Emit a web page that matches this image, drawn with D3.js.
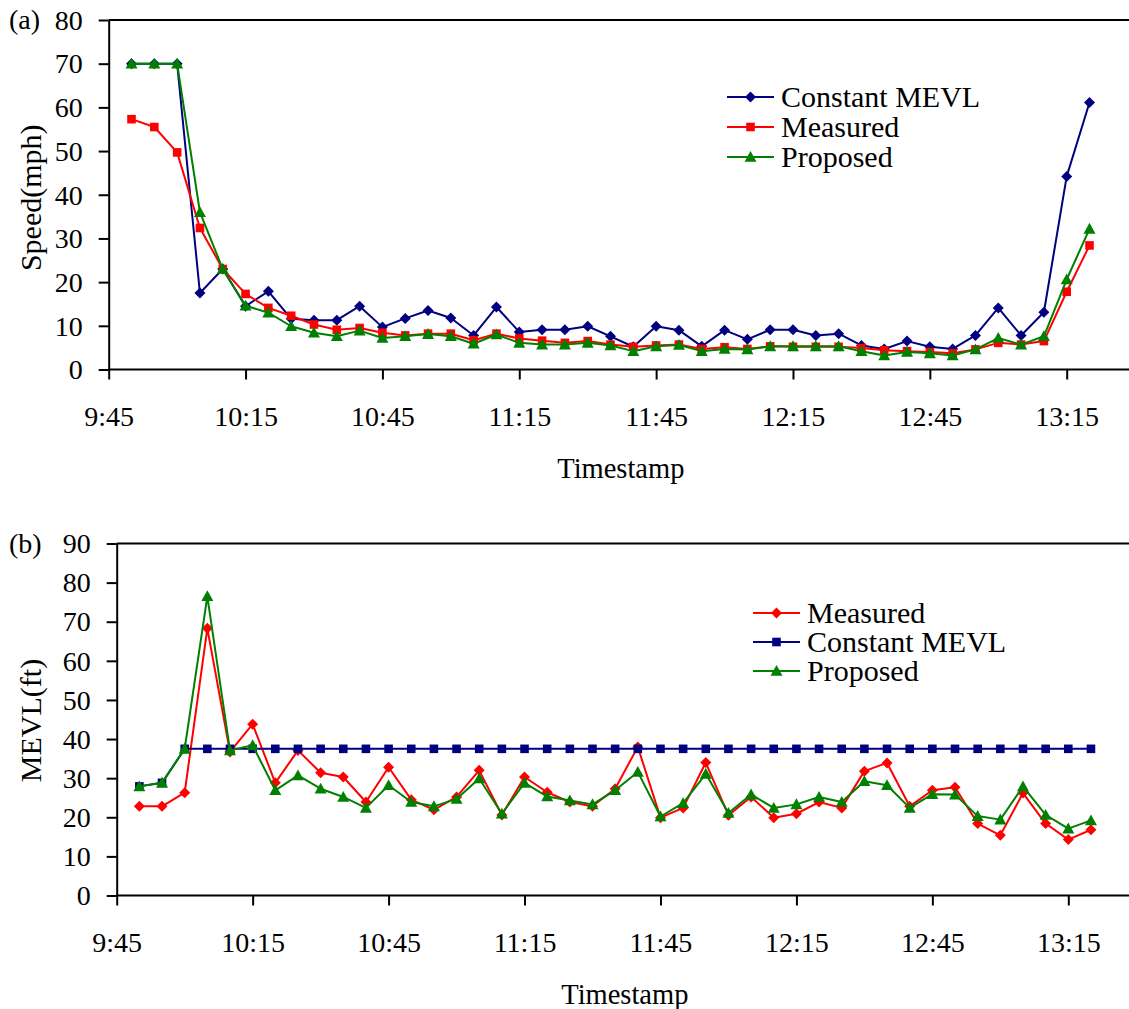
<!DOCTYPE html>
<html>
<head>
<meta charset="utf-8">
<script src="https://cdn.jsdelivr.net/npm/d3@7"></script>
<style>
html,body{margin:0;padding:0;background:#fff;}
svg{display:block;}
</style>
</head>
<body>
<svg id="chart" width="1129" height="1009"></svg>
<script>
// ---------- data ----------
const times = ["9:50","9:55","10:00","10:05","10:10","10:15","10:20","10:25","10:30","10:35","10:40","10:45","10:50","10:55","11:00",
  "11:05","11:10","11:15","11:20","11:25","11:30","11:35","11:40","11:45","11:50","11:55","12:00","12:05","12:10","12:15",
  "12:20","12:25","12:30","12:35","12:40","12:45","12:50","12:55","13:00","13:05","13:10","13:15","13:20"];
const xTickLabels = ["9:45","10:15","10:45","11:15","11:45","12:15","12:45","13:15"];

// panel (a): speed (mph)
const speedTicks = [0,10,20,30,40,50,60,70,80];
const speedConstant = [70,70,70,17.5,23,14.5,17.9,11.6,11.3,11.3,14.5,9.7,11.7,13.5,11.8,
  7.8,14.3,8.6,9.1,9.1,9.9,7.6,5.2,9.9,9.0,5.3,9.0,6.9,9.1,9.1,
  7.8,8.2,5.5,4.7,6.5,5.2,4.7,7.8,14.1,7.8,13.1,44.2,61.1];
const speedMeasured = [57.3,55.5,49.7,32.4,23,17.3,14.1,12.3,10.3,9.1,9.5,8.4,7.8,8.2,8.2,
  6.7,8.2,7.1,6.6,6.1,6.5,5.7,5.2,5.5,5.7,4.7,5.1,4.7,5.3,5.2,
  5.2,5.2,4.9,4.4,4.2,4.0,3.7,4.6,6.1,5.7,6.5,17.8,28.4];
const speedProposed = [70,70,70,36,23,14.6,13,9.9,8.4,7.6,8.9,7.2,7.6,8.1,7.6,
  5.9,8.0,6.1,5.7,5.7,6.1,5.5,4.2,5.3,5.6,4.2,4.7,4.6,5.3,5.3,
  5.3,5.3,4.2,3.2,4.0,3.7,3.2,4.6,7.2,5.7,7.6,20.6,32.2];

// panel (b): MEVL (ft)
const mevlTicks = [0,10,20,30,40,50,60,70,80,90];
const mevlMeasured = [22.8,22.8,26.3,68.3,36.7,43.8,28.8,37.1,31.4,30.3,23.9,32.8,24.5,21.9,25.2,
  32.0,20.6,30.3,26.4,23.9,22.8,27.3,38.0,19.9,22.4,34.0,20.5,25.2,19.9,20.9,
  23.9,22.4,31.8,33.9,22.8,26.9,27.7,18.4,15.4,26.2,18.4,14.3,16.8];
const mevlConstant = [27.9,28.8,37.5,37.5,37.5,37.5,37.5,37.5,37.5,37.5,37.5,37.5,37.5,37.5,37.5,
  37.5,37.5,37.5,37.5,37.5,37.5,37.5,37.5,37.5,37.5,37.5,37.5,37.5,37.5,37.5,
  37.5,37.5,37.5,37.5,37.5,37.5,37.5,37.5,37.5,37.5,37.5,37.5,37.5];
const mevlProposed = [27.9,28.8,37.5,76.5,37.1,38.4,26.9,30.7,27.3,25.2,22.4,28.2,23.9,22.8,24.7,
  29.9,20.9,28.8,25.3,24.3,23.3,26.9,31.6,20.2,23.6,31.1,21.1,25.8,22.4,23.3,
  25.2,23.9,29.2,28.2,22.4,25.9,25.8,20.3,19.4,27.9,20.6,17.1,19.2];

// ---------- drawing ----------
const parse = d3.timeParse("%H:%M");
const fmt = d3.timeFormat("%-H:%M");
const svg = d3.select("#chart");
const W = 1129;
const FONT = "Liberation Serif";

const NAVY = "#000080", RED = "#ff0000", GREEN = "#008000";

function markerPath(shape){
  if(shape === "diamond") return "M0,-5.5L5.5,0L0,5.5L-5.5,0Z";
  if(shape === "square") return "M-4.3,-4.3H4.3V4.3H-4.3Z";
  return "M0,-6L6,4.8H-6Z"; // triangle
}

function txt(sel, size){
  return sel.attr("font-family", FONT).attr("font-size", size).attr("fill", "#000");
}

function panel(cfg){
  const g = svg.append("g");
  const x = d3.scaleTime().domain([parse("9:45"), parse("13:15")]).range([cfg.left, cfg.x1315]);
  const y = d3.scaleLinear().domain([0, cfg.ymax]).range([cfg.bottom, cfg.top]);

  // frame: top & bottom lines extend to the right edge
  g.append("line").attr("x1", cfg.left).attr("x2", W).attr("y1", cfg.top).attr("y2", cfg.top)
    .attr("stroke","#000").attr("stroke-width",2);
  g.append("line").attr("x1", cfg.left).attr("x2", W).attr("y1", cfg.bottom).attr("y2", cfg.bottom)
    .attr("stroke","#000").attr("stroke-width",2);

  // y axis
  const ya = g.append("g").attr("transform",`translate(${cfg.left},0)`)
    .call(d3.axisLeft(y).tickValues(cfg.yTicks).tickSize(10).tickSizeOuter(0).tickPadding(16).tickFormat(d3.format("d")));
  ya.attr("font-family", FONT).attr("font-size", 28);
  ya.select(".domain").attr("stroke","#000").attr("stroke-width",2);
  ya.selectAll(".tick line").attr("stroke","#000").attr("stroke-width",2);
  ya.selectAll(".tick text").attr("dy","0.33em").attr("fill","#000");

  // x axis
  const xa = g.append("g").attr("transform",`translate(0,${cfg.bottom})`)
    .call(d3.axisBottom(x).tickValues(xTickLabels.map(parse)).tickSize(10).tickSizeOuter(0).tickPadding(27).tickFormat(fmt));
  xa.attr("font-family", FONT).attr("font-size", 28);
  xa.select(".domain").remove();
  xa.selectAll(".tick line").attr("stroke","#000").attr("stroke-width",2);
  xa.selectAll(".tick text").attr("fill","#000");

  // axis titles
  txt(g.append("text"), 28.5).attr("x", (cfg.left + W)/2 + 2).attr("y", cfg.bottom + 108)
    .attr("text-anchor","middle").text("Timestamp");
  txt(g.append("text"), 30).attr("transform",`translate(${41},${(cfg.top+cfg.bottom)/2 + cfg.titleShift}) rotate(-90)`)
    .attr("text-anchor","middle").text(cfg.yTitle);
  txt(g.append("text"), 28).attr("x", 9).attr("y", cfg.top).attr("dy","0.33em").text(cfg.tag);

  // series
  const line = d3.line().x((d,i)=>x(parse(times[i]))).y(d=>y(d));
  cfg.series.forEach(s=>{
    g.append("path").datum(s.values).attr("d", line)
      .attr("fill","none").attr("stroke", s.color).attr("stroke-width",2).attr("stroke-linejoin","round");
    g.selectAll(null).data(s.values).enter().append("path")
      .attr("d", markerPath(s.shape))
      .attr("transform",(d,i)=>`translate(${x(parse(times[i]))},${y(d)})`)
      .attr("fill", s.color);
  });

  // legend
  cfg.legendOrder.forEach((s,k)=>{
    const ly = cfg.legY + k*cfg.legStep;
    g.append("line").attr("x1",cfg.legX).attr("x2",cfg.legX+47).attr("y1",ly).attr("y2",ly)
      .attr("stroke",s.color).attr("stroke-width",2);
    g.append("path").attr("d",markerPath(s.shape)).attr("transform",`translate(${cfg.legX+23.5},${ly})`).attr("fill",s.color);
    txt(g.append("text"), 30).attr("x",cfg.legX+54).attr("y",ly).attr("dy","0.33em").text(s.name);
  });
}

const aConst = {name:"Constant MEVL", values:speedConstant, color:NAVY, shape:"diamond"};
const aMeas = {name:"Measured", values:speedMeasured, color:RED, shape:"square"};
const aProp = {name:"Proposed", values:speedProposed, color:GREEN, shape:"triangle"};
panel({left:108.7, x1315:1066.7, top:20, bottom:369.5, ymax:80, yTicks:speedTicks,
  yTitle:"Speed(mph)", tag:"(a)", titleShift:3, series:[aConst,aMeas,aProp], legendOrder:[aConst,aMeas,aProp],
  legX:727, legY:97, legStep:30});

const bMeas = {name:"Measured", values:mevlMeasured, color:RED, shape:"diamond"};
const bConst = {name:"Constant MEVL", values:mevlConstant, color:NAVY, shape:"square"};
const bProp = {name:"Proposed", values:mevlProposed, color:GREEN, shape:"triangle"};
panel({left:116.7, x1315:1068.3, top:543.5, bottom:895.5, ymax:90, yTicks:mevlTicks,
  yTitle:"MEVL(ft)", tag:"(b)", titleShift:1, series:[bMeas,bConst,bProp], legendOrder:[bMeas,bConst,bProp],
  legX:753, legY:613, legStep:29});
</script>
</body>
</html>
